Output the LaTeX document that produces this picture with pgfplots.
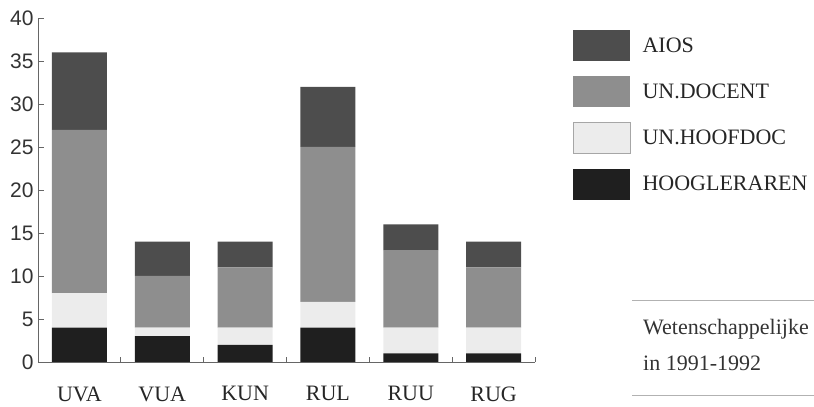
\documentclass[border=0pt]{standalone}
\usepackage{pgfplots}
\pgfplotsset{compat=1.18}
\usepackage{fontspec}
\setmainfont{Liberation Serif}
\newfontfamily\numfont{Liberation Sans}

\definecolor{cAios}{HTML}{4D4D4D}
\definecolor{cDoc}{HTML}{8E8E8E}
\definecolor{cHoofd}{HTML}{ECECEC}
\definecolor{cHoog}{HTML}{1F1F1F}
\definecolor{axisgray}{HTML}{666666}

\begin{document}
\begin{tikzpicture}
\useasboundingbox (0,0) rectangle (814bp,407bp);
\begin{axis}[
    at={(38bp,45bp)}, anchor=south west,
    scale only axis, width=497bp, height=344bp,
    ybar stacked, bar width=55bp,
    xmin=-0.5, xmax=5.5, ymin=0, ymax=40,
    axis x line*=bottom, axis y line*=left,
    axis line style={color=axisgray, line width=0.8bp},
    xtick={0,...,5},
    xticklabels={UVA,VUA,KUN,RUL,RUU,RUG},
    major x tick style={draw=none},
    minor xtick={0.5,1.5,2.5,3.5,4.5,5.5},
    minor tick length=5bp,
    ytick={0,5,...,40},
    major tick length=6bp,
    tick style={color=axisgray, line width=0.8bp},
    tick align=inside,
    /pgf/number format/assume math mode=true,
    yticklabel style={font=\numfont\fontsize{21bp}{21bp}\selectfont, text=black!80, xshift=-1bp},
    xticklabel style={font=\fontsize{22bp}{22bp}\selectfont, text=black!85, yshift=-21bp},
    reverse legend,
    legend cell align=left,
    legend style={draw=none, fill=none, at={(1.076,0.965)}, anchor=north west,
        font=\fontsize{22bp}{22bp}\selectfont, text=black!85, row sep=15bp, column sep=10bp, inner sep=0pt},
    legend image code/.code={\fill[#1] (0bp,-15.5bp) rectangle (57bp,15.5bp);},
]
% HOOGLERAREN
\addplot[fill=cHoog, draw=none] coordinates {(0,4) (1,3) (2,2) (3,4) (4,1) (5,1)};
% UN.HOOFDOC
\addplot[fill=cHoofd, draw=none,
    legend image code/.code={\draw[fill=cHoofd, draw=gray!70, line width=0.6bp] (0bp,-15.5bp) rectangle (57bp,15.5bp);}]
    coordinates {(0,4) (1,1) (2,2) (3,3) (4,3) (5,3)};
% UN.DOCENT
\addplot[fill=cDoc, draw=none] coordinates {(0,19) (1,6) (2,7) (3,18) (4,9) (5,7)};
% AIOS
\addplot[fill=cAios, draw=none] coordinates {(0,9) (1,4) (2,3) (3,7) (4,3) (5,3)};
\legend{HOOGLERAREN, UN.HOOFDOC, UN.DOCENT, AIOS}
\end{axis}
\draw[gray!60, line width=0.6bp] (632bp,107bp) -- (814bp,107bp);
\draw[gray!60, line width=0.6bp] (632bp,12bp) -- (814bp,12bp);
\node[anchor=base west, inner sep=0pt, font=\fontsize{22bp}{22bp}\selectfont, text=black!80] at (643bp,72bp) {Wetenschappelijke};
\node[anchor=base west, inner sep=0pt, font=\fontsize{22bp}{22bp}\selectfont, text=black!80] at (643bp,37bp) {in 1991-1992};
\end{tikzpicture}
\end{document}
